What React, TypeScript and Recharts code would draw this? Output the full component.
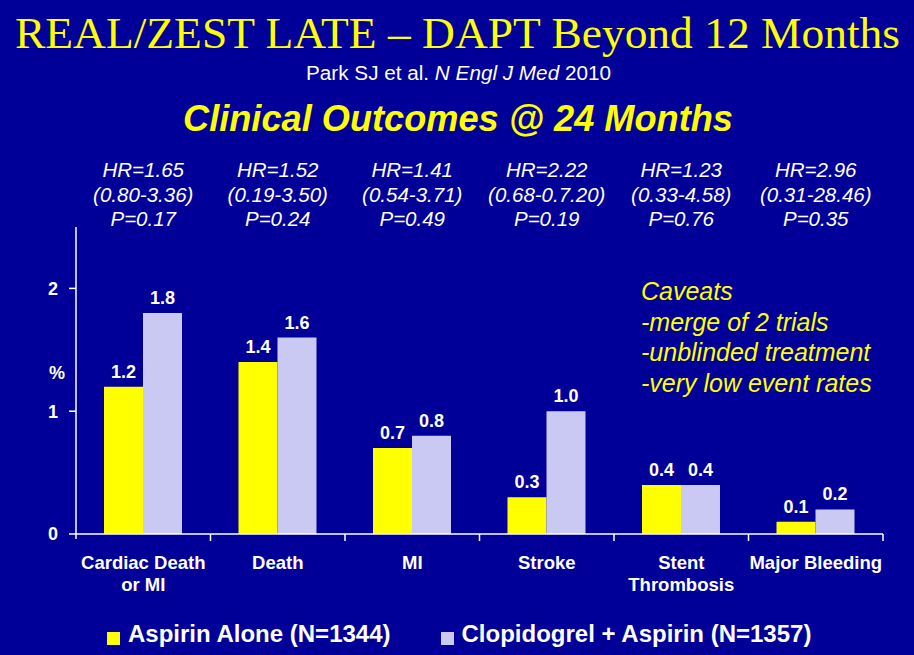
import React from "react";
import { BarChart, Bar, XAxis, YAxis, LabelList, Legend } from "recharts";

// outcome categories (\n = line break in the axis label)
const categories = ["Cardiac Death\nor MI", "Death", "MI", "Stroke", "Stent\nThrombosis", "Major Bleeding"];
// event rates, %
const aspirinAlone = [1.2, 1.4, 0.7, 0.3, 0.4, 0.1];
const clopidogrelAspirin = [1.8, 1.6, 0.8, 1.0, 0.4, 0.2];
// hazard ratio annotations
const hazardRatios = ["HR=1.65", "HR=1.52", "HR=1.41", "HR=2.22", "HR=1.23", "HR=2.96"];
const confidenceIntervals = ["(0.80-3.36)", "(0.19-3.50)", "(0.54-3.71)", "(0.68-0.7.20)", "(0.33-4.58)", "(0.31-28.46)"];
const pValues = ["P=0.17", "P=0.24", "P=0.49", "P=0.19", "P=0.76", "P=0.35"];
const yTicks = [0, 1, 2];
const caveats = ["Caveats", "-merge of 2 trials", "-unblinded treatment", "-very low event rates"];

const seriesNames = ["Aspirin Alone (N=1344)", "Clopidogrel + Aspirin (N=1357)"];

const BG = "#000099";
const YELLOW = "#FFFF00";
const LAVENDER = "#C9C9F4";
const FONT = "Arial, 'Liberation Sans', sans-serif";

const chartData = categories.map((name, i) => ({
  name,
  aspirin: aspirinAlone[i],
  clopidogrel: clopidogrelAspirin[i],
}));

const HrTick = ({ x, y, payload }: any) => {
  const i = categories.indexOf(payload.value);
  const lines = [hazardRatios[i], confidenceIntervals[i], pValues[i]];
  return (
    <g>
      {lines.map((t, k) => (
        <text
          key={k}
          x={x}
          y={y - 50 + k * 24.5}
          textAnchor="middle"
          fill="#fff"
          fontSize={20.5}
          fontStyle="italic"
          fontFamily={FONT}
        >
          {t}
        </text>
      ))}
    </g>
  );
};

// category label plus the boundary tick marks (ticks sit between categories)
const CategoryTick = ({ x, y, payload, index }: any) => {
  const lines = String(payload.value).split("\n");
  const half = payload.offset ?? 0;
  return (
    <g>
      <line x1={x + half} x2={x + half} y1={y} y2={y + 7} stroke="#fff" strokeWidth={1.5} />
      {index === 0 && <line x1={x - half} x2={x - half} y1={y} y2={y + 5} stroke="#fff" strokeWidth={1.5} />}
      {lines.map((t, k) => (
        <text
          key={k}
          x={x}
          y={y + 35 + k * 22}
          textAnchor="middle"
          fill="#fff"
          fontSize={18.5}
          fontWeight="bold"
          fontFamily={FONT}
        >
          {t}
        </text>
      ))}
    </g>
  );
};

const PercentLabel = ({ viewBox }: any) => (
  <text
    x={viewBox.x + viewBox.width - 19}
    y={viewBox.y + viewBox.height / 2 - 2}
    textAnchor="middle"
    fill="#fff"
    fontSize={18}
    fontWeight="bold"
    fontFamily={FONT}
  >
    %
  </text>
);

const LegendContent = ({ payload }: any) => (
  <div style={{ display: "flex", paddingLeft: 107, gap: 50 }}>
    {(payload || []).map((e: any) => (
      <div key={e.value} style={{ display: "flex", alignItems: "center" }}>
        <span
          style={{ width: 13, height: 13, background: e.color, marginRight: 8, marginTop: 8, display: "inline-block" }}
        />
        <span style={{ color: "#fff", fontSize: 24, fontWeight: "bold", fontFamily: FONT }}>{e.value}</span>
      </div>
    ))}
  </div>
);

const fmt = (v: any) => Number(v).toFixed(1);

const valueLabelProps = {
  position: "top" as const,
  offset: 9,
  formatter: fmt,
  fill: "#fff",
  fontSize: 18,
  fontWeight: "bold",
  fontFamily: FONT,
};

export default function App() {
  return (
    <div style={{ position: "absolute", top: 0, left: 0, width: 914, height: 655, background: BG, overflow: "hidden" }}>
      <svg width={914} height={655} style={{ position: "absolute", top: 0, left: 0, pointerEvents: "none" }}>
        <text
          x={15}
          y={48}
          textLength={885}
          lengthAdjust="spacingAndGlyphs"
          fill={YELLOW}
          fontSize={44}
          fontFamily="'Liberation Serif', 'Times New Roman', serif"
        >
          REAL/ZEST LATE – DAPT Beyond 12 Months
        </text>
        <text
          x={306}
          y={80}
          textLength={305}
          lengthAdjust="spacingAndGlyphs"
          fill="#fff"
          fontSize={20}
          fontFamily={FONT}
        >
          Park SJ et al. <tspan fontStyle="italic">N Engl J Med</tspan> 2010
        </text>
        <text
          x={183}
          y={131}
          textLength={550}
          lengthAdjust="spacingAndGlyphs"
          fill={YELLOW}
          fontSize={36}
          fontWeight="bold"
          fontStyle="italic"
          fontFamily={FONT}
        >
          Clinical Outcomes @ 24 Months
        </text>
        {caveats.map((t, k) => (
          <text
            key={k}
            x={641}
            y={300 + k * 30.7}
            fill={YELLOW}
            fontSize={25}
            fontStyle="italic"
            fontFamily={FONT}
          >
            {t}
          </text>
        ))}
      </svg>
      <BarChart
        width={914}
        height={655}
        data={chartData}
        margin={{ top: 147, right: 31, bottom: 61, left: 36 }}
        barGap={0}
      >
        <XAxis
          xAxisId="hr"
          dataKey="name"
          orientation="top"
          height={80}
          axisLine={false}
          tickLine={false}
          tickSize={0}
          tickMargin={0}
          interval={0}
          tick={<HrTick />}
        />
        <XAxis
          xAxisId="cat"
          dataKey="name"
          height={60}
          stroke="#fff"
          axisLine={{ stroke: "#fff", strokeWidth: 1.5 }}
          tickLine={false}
          tickSize={0}
          tickMargin={0}
          interval={0}
          tick={<CategoryTick />}
        />
        <YAxis
          width={40}
          domain={[0, 2.5]}
          ticks={yTicks}
          stroke="#fff"
          axisLine={{ stroke: "#fff", strokeWidth: 1.5 }}
          tickLine={{ stroke: "#fff", strokeWidth: 1.5 }}
          tickSize={7}
          tickMargin={11}
          tick={{ fill: "#fff", fontSize: 18, fontWeight: "bold", fontFamily: FONT }}
          label={{ content: PercentLabel }}
        />
        <Bar xAxisId="cat" dataKey="aspirin" name={seriesNames[0]} fill={YELLOW} barSize={39} isAnimationActive={false}>
          <LabelList dataKey="aspirin" {...valueLabelProps} />
        </Bar>
        <Bar xAxisId="cat" dataKey="clopidogrel" name={seriesNames[1]} fill={LAVENDER} barSize={39} isAnimationActive={false}>
          <LabelList dataKey="clopidogrel" {...valueLabelProps} />
        </Bar>
        <Legend
          layout="vertical"
          align="center"
          verticalAlign="middle"
          content={<LegendContent />}
          wrapperStyle={{ top: 620, left: 0, width: 914 }}
        />
      </BarChart>
    </div>
  );
}
